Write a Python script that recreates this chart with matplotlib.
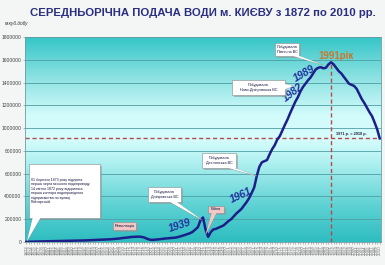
import matplotlib
matplotlib.use("Agg")
import matplotlib.pyplot as plt
import numpy as np
from matplotlib.colors import LinearSegmentedColormap
from matplotlib.patches import Rectangle, Polygon

plt.rcParams['font.family'] = ['Liberation Sans', 'DejaVu Sans']

# ---------------- data ----------------
years = list(range(1872, 2011))
supply = [
    1500, 2500, 3000, 3500, 4000, 4500, 5000, 5500, 6000, 6500,          # 1872-1881
    7000, 7500, 8000, 8500, 9000, 9500, 10000, 10500, 11000, 11500,      # 1882-1891
    12000, 12500, 13000, 14000, 15000, 16000, 17000, 18000, 19000, 20000,  # 1892-1901
    21000, 22000, 23000, 24000, 26000, 28000, 30000, 33000, 36000, 38000,  # 1902-1911
    41000, 44000, 45000, 46000, 47000, 45000, 40000, 30000, 22000, 18000,  # 1912-1921
    20000, 22000, 24000, 27000, 30000, 32000, 34000, 36000, 38000, 42000,  # 1922-1931
    48000, 55000, 62000, 70000, 78000, 90000, 110000, 130000, 190000, 215000,  # 1932-1941
    110000, 45000, 85000, 110000, 115000, 125000, 135000, 145000, 165000, 185000,  # 1942-1951
    200000, 225000, 250000, 270000, 290000, 320000, 350000, 385000, 430000, 480000,  # 1952-1961
    580000, 660000, 700000, 710000, 720000, 770000, 815000, 850000, 900000, 930000,  # 1962-1971
    980000, 1030000, 1076000, 1130000, 1180000, 1230000, 1270000, 1320000, 1360000, 1390000,  # 1972-1981
    1420000, 1445000, 1480000, 1515000, 1530000, 1535000, 1525000, 1530000, 1560000, 1578000,  # 1982-1991
    1560000, 1530000, 1500000, 1480000, 1450000, 1420000, 1390000, 1380000, 1370000, 1345000,  # 1992-2001
    1300000, 1255000, 1220000, 1180000, 1140000, 1105000, 1050000, 990000, 910000,  # 2002-2010
]
y_ticks = [0, 200000, 400000, 600000, 800000, 1000000, 1200000, 1400000, 1600000, 1800000]
title = "СЕРЕДНЬОРІЧНА ПОДАЧА ВОДИ м. КИЄВУ з 1872 по 2010 рр."
unit = "м.куб.добу"
milestones = ["1939", "1961", "1982", "1989"]
peak_label = "1991рік"
peak_year = 1991
equal_label = "1971 р. = 2010 р."

W, H = 385, 265
fig = plt.figure(figsize=(W / 100, H / 100), dpi=100)
fig.patch.set_facecolor('#f4f5f5')

L, R, T, B = 25, 381, 37, 242
ax = fig.add_axes([L / W, 1 - B / H, (R - L) / W, (B - T) / H])
x = np.arange(len(years))
ax.set_xlim(-0.5, len(years) - 0.5)
ax.set_ylim(0, 1800000)

# gradient background
cmap = LinearSegmentedColormap.from_list('bg', [
    (0.0, '#2ebdc0'), (0.18, '#5fd2d4'), (0.4, '#b4f2f2'), (0.5, '#d6fcfc'),
    (0.62, '#d2fbfb'), (0.8, '#8ee2e2'), (1.0, '#36c6c8')])
grad = np.linspace(0, 1, 256).reshape(-1, 1)
ax.imshow(grad, extent=[-0.5, len(years) - 0.5, 0, 1800000], origin='lower',
          aspect='auto', cmap=cmap, zorder=0)

ax.set_yticks(y_ticks)
ax.set_yticklabels([str(v) for v in y_ticks], fontsize=3.6, color='#404040')
ax.yaxis.grid(True, color='#4f9ea4', lw=0.6, zorder=1)
ax.set_xticks(x)
ax.set_xticklabels([str(y) for y in years], rotation=90, fontsize=3.2, color='#707070')
ax.tick_params(axis='both', length=1.5, width=0.4, pad=1, color='#808080')
for s in ax.spines.values():
    s.set_color('#6a9ea4')
    s.set_linewidth(0.6)

# dashed reference lines
pi = years.index(peak_year)
ax.axhline(supply[-1], color='#b44a4a', lw=1.0, ls=(0, (3, 2)), zorder=2)
ax.plot([x[pi], x[pi]], [0, supply[pi]], color='#b44a4a', lw=1.0, ls=(0, (3, 2)), zorder=2)

ax.plot(x, supply, color='#1c1f8a', lw=1.8, zorder=4, solid_joinstyle='round')

# ---------------- texts ----------------
def P(px, py):
    return (px / W, 1 - py / H)

fig.text(*P(203, 13), title, ha='center', va='center', fontsize=8.2,
         fontweight='bold', color='#2a2f80')
fig.text(*P(17, 24), unit, ha='center', va='center', fontsize=3.4,
         style='italic', color='#303030')

mil_pos = [(180, 226, 18), (241, 195, 25), (293, 93, 38), (304, 74, 30)]
for t, (px, py, r) in zip(milestones, mil_pos):
    fig.text(*P(px, py), t, ha='center', va='center', fontsize=7.5, rotation=r,
             fontweight='bold', style='italic', color='#2330a0', zorder=6)
fig.text(*P(336, 56), peak_label, ha='center', va='center', fontsize=7,
         fontweight='bold', color='#c6782e', zorder=6)
fig.text(*P(351, 134.5), equal_label, ha='center', va='center', fontsize=2.8,
         color='#202040', fontweight='bold', zorder=6)


def callout(x0, y0, x1, y1, base, tip, lines, fc='white', fs=2.8, bold_lines=(),
            align='center'):
    # shadow
    fig.patches.append(Rectangle(P(x0 + 2, y1 + 2), (x1 - x0) / W, (y1 - y0) / H,
                                 transform=fig.transFigure, fc='#8a9a9a', ec='none',
                                 alpha=0.6, zorder=7))
    if tip is not None:
        poly = [P(*base[0]), P(*base[1]), P(*tip)]
        fig.patches.append(Polygon(poly, closed=True, transform=fig.transFigure,
                                   fc=fc, ec='#8a8a8a', lw=0.4, zorder=8))
    fig.patches.append(Rectangle(P(x0, y1), (x1 - x0) / W, (y1 - y0) / H,
                                 transform=fig.transFigure, fc=fc, ec='#8a8a8a',
                                 lw=0.4, zorder=9))
    if tip is not None:
        # hide the polygon's edge where it joins the box
        fig.patches.append(Polygon([P(base[0][0], base[0][1] - 0.3),
                                    P(base[1][0], base[1][1] - 0.3),
                                    P(*tip)], closed=True, transform=fig.transFigure,
                                   fc=fc, ec='none', zorder=10))
    n = len(lines)
    cy = (y0 + y1) / 2
    step = fs * 1.75
    for i, ln in enumerate(lines):
        yy = cy + (i - (n - 1) / 2) * step
        if align == 'center':
            xx, ha = (x0 + x1) / 2, 'center'
        else:
            xx, ha = x0 + 2, 'left'
        fig.text(*P(xx, yy), ln, ha=ha, va='center', fontsize=fs, color='#151540',
                 fontweight='bold' if i in bold_lines else 'normal', zorder=11)


callout(29, 164, 100, 218, [(33, 217), (41, 217)], (27, 241),
        ["01 березня 1873 року відкрита",
         "перша черга міського водопроводу.",
         "14 квітня 1872 року відкрилась",
         "перша контора водопровідного",
         "підприємства по вулиці",
         "Рейтарській."], fs=2.6, bold_lines=(), align='left')
callout(113, 222, 136, 230, None, None, ["Революція"], fc='#f2c8c6', fs=3.0)
callout(148, 187, 181, 202, [(168, 201), (175, 201)], (202, 220),
        ["Побудована", "Дніпровська ВС"], fs=2.7)
callout(208, 206, 224, 213, [(212, 212), (217, 212)], (206, 234),
        ["Війна"], fc='#f2c8c6', fs=2.9)
callout(202, 153, 236, 168, [(224, 167), (231, 167)], (257, 176),
        ["Побудована", "Деснянська ВС"], fs=2.7)
callout(232, 80, 285, 95, [(284, 84), (284, 90)], (293, 86),
        ["Побудована", "Ново-Дніпровська ВС"], fs=2.7)
callout(275, 43, 299, 56, [(289, 55), (296, 55)], (323, 65),
        ["Побудована", "Північна ВС"], fs=2.7)

fig.savefig("out.png", dpi=100, facecolor=fig.get_facecolor())
